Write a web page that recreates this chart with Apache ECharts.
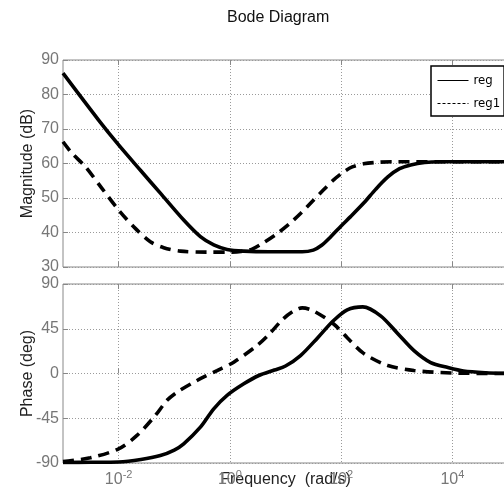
<!DOCTYPE html>
<html><head><meta charset="utf-8">
<script src="https://cdn.jsdelivr.net/npm/echarts@6/dist/echarts.min.js"></script>
<style>html,body{margin:0;padding:0;background:#fff}#c{width:504px;height:490px}</style>
</head><body><div id="c"></div><script>
// ---- data ----
const titleText = 'Bode Diagram';
const seriesNames = ['reg', 'reg1'];
const xTickValues = [0.01, 1, 100, 10000];          // labelled decades
const magTicks = { min: 30, max: 90, step: 10 };
const phaseTicks = { min: -90, max: 90, step: 45 };

// log10 of frequency (rad/s) and values
const regMagLogW = [-3, -2.36, -2, -1.6, -1.25, -0.83, -0.53, -0.29, -0.05, 0.25, 0.7, 1.0, 1.3, 1.5, 1.65, 1.81, 2.0, 2.17, 2.41, 2.62, 2.84, 3.05, 3.25, 3.5, 3.8, 5];
const regMagDb   = [86.2, 72.6, 65.4, 57.9, 51.4, 43.6, 38.8, 36.4, 35.1, 34.6, 34.4, 34.4, 34.4, 34.9, 36.3, 38.7, 41.9, 44.6, 48.6, 52.5, 56.1, 58.5, 59.6, 60.3, 60.5, 60.5];

const reg1MagLogW = [-3, -2.84, -2.6, -2.3, -2.0, -1.7, -1.43, -1.19, -0.89, -0.41, -0.05, 0.2, 0.4, 0.6, 0.86, 1.07, 1.27, 1.48, 1.68, 1.86, 2.04, 2.2, 2.4, 2.7, 3, 5];
const reg1MagDb   = [66.3, 63, 59.1, 52.8, 46.5, 41.2, 37.3, 35.6, 34.6, 34.3, 34.3, 34.5, 35.2, 37, 39.8, 42.5, 45.5, 49, 52.3, 55.2, 57.5, 59, 59.9, 60.4, 60.5, 60.5];

const regPhLogW = [-3, -2.5, -2.0, -1.6, -1.25, -1.0, -0.83, -0.53, -0.29, -0.05, 0.25, 0.52, 0.8, 1.0, 1.27, 1.58, 1.86, 2.11, 2.39, 2.71, 3.02, 3.31, 3.61, 3.92, 4.2, 4.6, 5];
const regPhDeg  = [-89.5, -89.3, -89, -86.5, -82.5, -77, -70.7, -54, -35.5, -22, -10.4, -2, 3.5, 7.5, 18, 36, 53, 64, 67, 58, 40, 23, 11, 6, 2.5, 0.8, 0.2];

const reg1PhLogW = [-3, -2.51, -2.0, -1.67, -1.34, -1.13, -0.95, -0.59, -0.23, 0.07, 0.49, 0.68, 0.96, 1.15, 1.3, 1.5, 1.86, 2.11, 2.41, 2.84, 3.31, 4, 5];
const reg1PhDeg  = [-88.5, -84.8, -75.7, -62.3, -42.2, -27, -18.8, -7, 3, 11.4, 28.2, 38, 55, 63, 66, 63, 50, 36, 20, 8, 3, 0.5, 0];

// ---- build ----
const pairs = (lw, v) => lw.map((e, i) => [Math.pow(10, e), v[i]]);
const FONT = "'Liberation Sans', Helvetica, Arial, sans-serif";
const NARROW = "'Liberation Sans Narrow', 'DejaVu Sans Condensed', 'Liberation Sans', sans-serif";
const gridLine = { show: true, lineStyle: { color: '#9a9a9a', width: 1, type: [1, 2] } };
const tickStyle = { inside: true, length: 5, lineStyle: { color: '#888' } };

function xAxis(gi, showLabels, pos) {
  return {
    type: 'log', logBase: 10, gridIndex: gi, min: 0.001, max: 100000, position: pos,
    axisLine: { show: false },
    axisTick: Object.assign({ customValues: xTickValues }, tickStyle),
    axisLabel: {
      show: showLabels, customValues: xTickValues, margin: 6,
      formatter: v => '{b|10}{s|' + Math.round(Math.log10(v)) + '}',
      rich: {
        b: { fontSize: 16, color: '#777', fontFamily: FONT },
        s: { fontSize: 11, color: '#777', fontFamily: FONT, padding: [0, 0, 10, 0] }
      }
    },
    splitLine: Object.assign({}, gridLine, { show: pos === 'bottom' }),
    name: showLabels ? 'Frequency  (rad/s)' : '',
    nameLocation: 'middle', nameGap: 9, nameMoveOverlap: false,
    nameTextStyle: { fontSize: 16, color: '#222', fontFamily: FONT }
  };
}
function yAxis(gi, t, name, gap) {
  return {
    type: 'value', gridIndex: gi, min: t.min, max: t.max, interval: t.step,
    axisLine: { show: false },
    axisTick: tickStyle,
    axisLabel: { color: '#777', fontSize: 16, fontFamily: FONT, margin: 4 },
    splitLine: gridLine,
    name: name, nameLocation: 'middle', nameGap: gap, nameMoveOverlap: false,
    nameTextStyle: { fontSize: 16, color: '#222', fontFamily: FONT }
  };
}
const solid = { color: '#000', width: 3.6, type: 'solid' };
const dashed = { color: '#000', width: 3.6, type: [11, 7] };
function line(name, xi, data, ls) {
  return { name: name, type: 'line', xAxisIndex: xi * 2, yAxisIndex: xi, data: data,
    showSymbol: false, symbol: 'none', smooth: 0.3, lineStyle: ls, itemStyle: { color: '#000' },
    emphasis: { disabled: true }, z: 3 };
}

const chart = echarts.init(document.getElementById('c'), null, { renderer: 'canvas' });
chart.setOption({
  animation: false,
  backgroundColor: '#fff',
  title: { text: titleText, left: 227, top: 10, padding: 0, textStyle: { fontSize: 16, fontWeight: 'normal', color: '#111', fontFamily: FONT } },
  legend: {
    orient: 'vertical', left: 431, top: 66, padding: [8, 4, 6, 6], itemGap: 10,
    itemWidth: 31, itemHeight: 14, backgroundColor: '#fff', borderColor: '#000', borderWidth: 1.5,
    textStyle: { fontSize: 13, color: '#000', fontFamily: NARROW },
    lineStyle: { width: 1 },
    itemStyle: { color: 'transparent', borderWidth: 0, opacity: 0 },
    data: [
      { name: seriesNames[0], lineStyle: { width: 1, type: 'solid' } },
      { name: seriesNames[1], lineStyle: { width: 1, type: [3, 2] } }
    ],
    z: 10
  },
  grid: [
    { left: 63, top: 60, right: -4, height: 207, show: true, borderColor: '#888', borderWidth: 1, containLabel: false, outerBoundsMode: 'none' },
    { left: 63, top: 284, right: -4, height: 179, show: true, borderColor: '#888', borderWidth: 1, containLabel: false, outerBoundsMode: 'none' }
  ],
  xAxis: [xAxis(0, false, 'bottom'), xAxis(0, false, 'top'), xAxis(1, true, 'bottom'), xAxis(1, false, 'top')],
  yAxis: [yAxis(0, magTicks, 'Magnitude (dB)', 27), yAxis(1, phaseTicks, 'Phase (deg)', 27)],
  series: [
    line(seriesNames[0], 0, pairs(regMagLogW, regMagDb), solid),
    line(seriesNames[1], 0, pairs(reg1MagLogW, reg1MagDb), dashed),
    line(seriesNames[0], 1, pairs(regPhLogW, regPhDeg), solid),
    line(seriesNames[1], 1, pairs(reg1PhLogW, reg1PhDeg), dashed)
  ]
});
</script></body></html>
